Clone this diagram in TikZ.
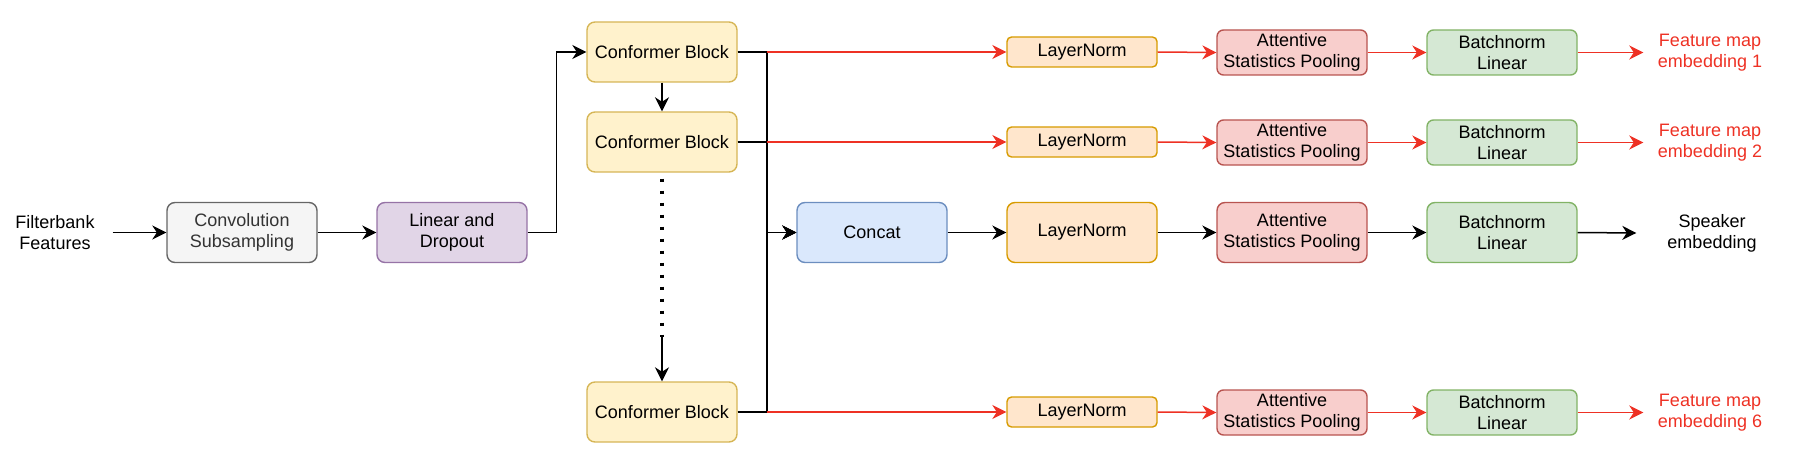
\documentclass[tikz,border=0pt]{standalone}
\usepackage{fontspec}
\setmainfont{Liberation Sans}
\usetikzlibrary{arrows.meta}
\definecolor{redc}{HTML}{EE3124}
\definecolor{grayfill}{HTML}{F5F5F5}\definecolor{graydraw}{HTML}{666666}\definecolor{graytext}{HTML}{333333}
\definecolor{purfill}{HTML}{E1D5E7}\definecolor{purdraw}{HTML}{9673A6}
\definecolor{yelfill}{HTML}{FFF2CC}\definecolor{yeldraw}{HTML}{D6B656}
\definecolor{blufill}{HTML}{DAE8FC}\definecolor{bludraw}{HTML}{6C8EBF}
\definecolor{orafill}{HTML}{FFE6CC}\definecolor{oradraw}{HTML}{D79B00}
\definecolor{redfill}{HTML}{F8CECC}\definecolor{reddraw}{HTML}{B85450}
\definecolor{grnfill}{HTML}{D5E8D4}\definecolor{grndraw}{HTML}{82B366}
\begin{document}
\begin{tikzpicture}[x=1pt,y=-1pt,
  font=\fontsize{18}{21}\selectfont,
  box/.style={draw, line width=1.4pt, rounded corners=8pt, minimum width=150pt, minimum height=60pt, inner sep=0pt, align=center},
  thin box/.style={box, minimum height=30pt, rounded corners=4.5pt},
  mid box/.style={box, minimum height=45pt, rounded corners=6.5pt},
  grayb/.style={fill=grayfill, draw=graydraw, text=graytext},
  purb/.style={fill=purfill, draw=purdraw},
  yelb/.style={fill=yelfill, draw=yeldraw},
  blub/.style={fill=blufill, draw=bludraw},
  orab/.style={fill=orafill, draw=oradraw},
  redb/.style={fill=redfill, draw=reddraw},
  grnb/.style={fill=grnfill, draw=grndraw},
  lbl/.style={align=center, inner ysep=0pt},
  arr/.style={draw=black, line width=1.5pt, -{Stealth[length=14pt,width=14pt,inset=4.5pt]}},
  redarr/.style={draw=redc, line width=1.5pt, -{Stealth[length=14pt,width=14pt,inset=4.5pt]}},
  plain/.style={draw=black, line width=1.5pt},
  dotline/.style={draw=black, line width=3.4pt, dash pattern=on 3.2pt off 8.8pt}
]
\useasboundingbox (0,0) rectangle (1798,476);

% input chain
\node[lbl, inner xsep=18pt] (fb) at (55,232.5) {Filterbank\\Features};
\node[box, grayb] (conv) at (242,232.5) {Convolution\\Subsampling};
\node[box, purb] (lin) at (452,232.5) {Linear and\\Dropout};

% conformer blocks
\node[box, yelb] (c1) at (662,52) {Conformer Block};
\node[box, yelb] (c2) at (662,142) {Conformer Block};
\node[box, yelb] (c3) at (662,412) {Conformer Block};
\coordinate (dotend) at (662,337);
\coordinate (bus) at (767,232.5);

% concat row
\node[box, blub] (cat) at (872,232.5) {Concat};
\node[box, orab] (ln3) at (1082,232.5) {LayerNorm};
\node[box, redb] (asp3) at (1292,232.5) {Attentive\\Statistics Pooling};
\node[box, grnb] (bl3) at (1502,232.5) {Batchnorm\\Linear};
\node[lbl, inner xsep=31pt] (out3) at (1712,233) {Speaker\\embedding};

% branch rows
\node[thin box, orab] (ln1) at (1082,52) {LayerNorm};
\node[mid box, redb] (asp1) at (1292,52.5) {Attentive\\Statistics Pooling};
\node[mid box, grnb] (bl1) at (1502,52.5) {Batchnorm\\Linear};
\node[lbl, inner xsep=14.5pt, text=redc] (out1) at (1710,52.5) {Feature map\\embedding 1};

\node[thin box, orab] (ln2) at (1082,142) {LayerNorm};
\node[mid box, redb] (asp2) at (1292,142.5) {Attentive\\Statistics Pooling};
\node[mid box, grnb] (bl2) at (1502,142.5) {Batchnorm\\Linear};
\node[lbl, inner xsep=14.5pt, text=redc] (out2) at (1710,142.5) {Feature map\\embedding 2};

\node[thin box, orab] (ln6) at (1082,412) {LayerNorm};
\node[mid box, redb] (asp6) at (1292,412.5) {Attentive\\Statistics Pooling};
\node[mid box, grnb] (bl6) at (1502,412.5) {Batchnorm\\Linear};
\node[lbl, inner xsep=14.5pt, text=redc] (out6) at (1710,412.5) {Feature map\\embedding 6};

% input connectors
\draw[arr] (fb.east) -- (conv.west);
\draw[arr] (conv.east) -- (lin.west);
\draw[arr] (lin.east) -- ++(29,0) |- (c1.west);

% conformer stack
\draw[arr] (c1.south) -- (c2.north);
\draw[dotline] (c2.south) ++(0,6) -- (dotend);
\draw[arr] (dotend) -- (c3.north);

% to concat (black bus)
\draw[arr] (c1.east) -| (bus) -- (cat.west);
\draw[arr] (c2.east) -| (bus) -- (cat.west);
\draw[arr] (c3.east) -| (bus) -- (cat.west);

% red branches
\draw[redarr] (c1.east -| bus) -- (ln1.west);
\draw[redarr] (c2.east -| bus) -- (ln2.west);
\draw[redarr] (c3.east -| bus) -- (ln6.west);
\draw[plain] (c1.east) -- (c1.east -| bus);
\draw[plain] (c2.east) -- (c2.east -| bus);
\draw[plain] (c3.east) -- (c3.east -| bus);

\draw[redarr] (ln1.east) -- (asp1.west);
\draw[redarr] (asp1.east) -- (bl1.west);
\draw[redarr] (bl1.east) -- (out1.west);
\draw[redarr] (ln2.east) -- (asp2.west);
\draw[redarr] (asp2.east) -- (bl2.west);
\draw[redarr] (bl2.east) -- (out2.west);
\draw[redarr] (ln6.east) -- (asp6.west);
\draw[redarr] (asp6.east) -- (bl6.west);
\draw[redarr] (bl6.east) -- (out6.west);

% concat row
\draw[arr] (cat.east) -- (ln3.west);
\draw[arr] (ln3.east) -- (asp3.west);
\draw[arr] (asp3.east) -- (bl3.west);
\draw[arr] (bl3.east) -- (out3.west);
\end{tikzpicture}
\end{document}
